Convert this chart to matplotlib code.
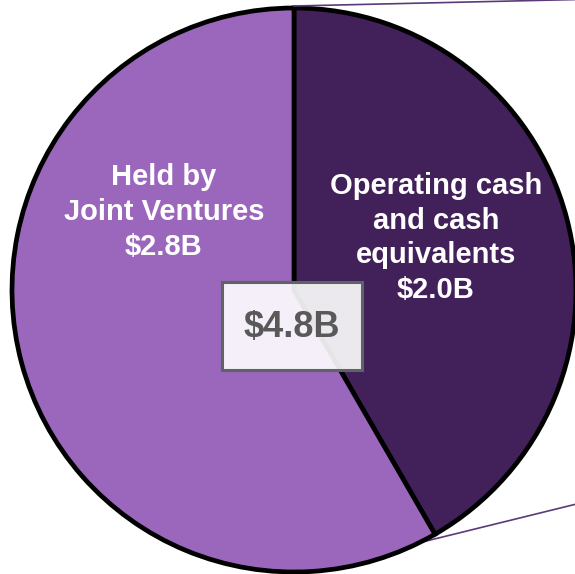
import matplotlib
matplotlib.use('Agg')
import matplotlib.pyplot as plt
import numpy as np
from matplotlib.patches import Rectangle

# slices, clockwise from 12 o'clock
labels = ['Operating cash\nand cash\nequivalents\n$2.0B', 'Held by\nJoint Ventures\n$2.8B']
values = [2.0, 2.8]
colors = ['#42215a', '#9a67bc']
total_label = '$4.8B'

plt.rcParams['font.family'] = ['Liberation Sans', 'DejaVu Sans']

fig = plt.figure(figsize=(5.75, 5.74), dpi=100)
ax = fig.add_axes([0, 0, 1, 1])

cx, cy, r = 294, 284, 282
wedges, _ = ax.pie(values, colors=colors, startangle=90, counterclock=False,
                   center=(cx, cy), radius=r, frame=True,
                   wedgeprops=dict(edgecolor='black', linewidth=3.4))
ax.set_xlim(0, 575)
ax.set_ylim(0, 574)
ax.set_aspect('equal')
ax.axis('off')

# connector lines going off to the right
th1 = np.deg2rad(wedges[0].theta2)
th2 = np.deg2rad(wedges[0].theta1)
p1 = (cx + r * np.cos(th1), cy + r * np.sin(th1) + 2)
ax.plot([p1[0], 600], [p1[1], p1[1] + 7], color='#5b3a7a', lw=1.2, zorder=5)
p2 = (cx + r * np.cos(th2) - 8, cy + r * np.sin(th2) - 5)
ax.plot([p2[0] - 30, 600], [p2[1] - 9, p2[1] + 41], color='#5b3a7a', lw=1.2, zorder=0)

# slice labels
ax.text(436, 336, labels[0], ha='center', va='center', color='white',
        fontsize=21, fontweight='bold', linespacing=1.3)
ax.text(164, 362, labels[1], ha='center', va='center', color='white',
        fontsize=21, fontweight='bold', linespacing=1.3)

# total box
ax.add_patch(Rectangle((222, 204), 140, 88, facecolor='white', alpha=0.9,
                       edgecolor='none', zorder=6))
ax.add_patch(Rectangle((222, 204), 140, 88, facecolor='none',
                       edgecolor='#5f6266', linewidth=2.2, zorder=7))
ax.text(292, 246, total_label, ha='center', va='center', color='#595959',
        fontsize=26, fontweight='bold', zorder=8)

fig.savefig('out.png', dpi=100)
